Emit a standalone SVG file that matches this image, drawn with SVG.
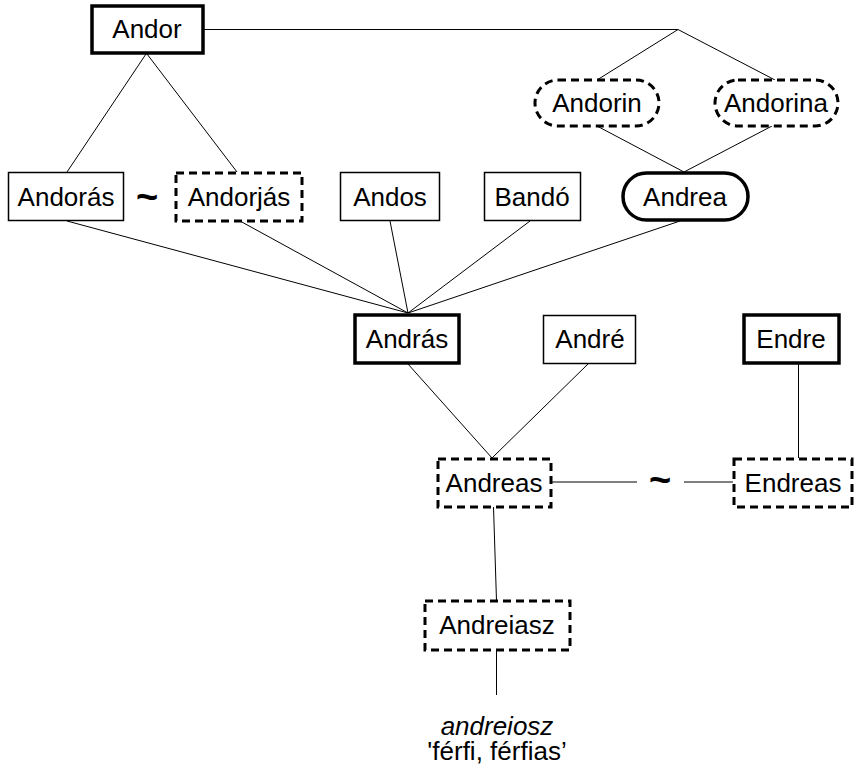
<svg xmlns="http://www.w3.org/2000/svg" width="864" height="771" viewBox="0 0 864 771">
<style>
text{font-family:"Liberation Sans",Arial,sans-serif;font-size:26px;fill:#000;text-anchor:middle}
.thin{fill:#fff;stroke:#000;stroke-width:1.5}
.thick{fill:#fff;stroke:#000;stroke-width:3.5}
.dash{fill:#fff;stroke:#000;stroke-width:3;stroke-dasharray:8,5}
.c{stroke:#000;stroke-width:1;fill:none}
.tl{font-weight:bold;font-size:38px}
</style>
<rect width="864" height="771" fill="#fff"/>
<g id="connectors">
<polyline class="c" points="203,29.5 678,29.5 597,80"/>
<line class="c" x1="678" y1="29.5" x2="775" y2="80"/>
<line class="c" x1="146" y1="54" x2="67" y2="172"/>
<line class="c" x1="147" y1="54" x2="237" y2="172"/>
<line class="c" x1="597" y1="126" x2="684" y2="172"/>
<line class="c" x1="772" y1="126" x2="684" y2="172"/>
<line class="c" x1="67" y1="221" x2="408" y2="313"/>
<line class="c" x1="240" y1="221" x2="408" y2="313"/>
<line class="c" x1="390" y1="221" x2="408" y2="313"/>
<line class="c" x1="530" y1="221" x2="408" y2="313"/>
<line class="c" x1="680" y1="221" x2="408" y2="313"/>
<line class="c" x1="408" y1="364" x2="492" y2="458"/>
<line class="c" x1="588" y1="364" x2="492" y2="458"/>
<line class="c" x1="798.5" y1="364" x2="798.5" y2="458"/>
<line class="c" x1="551" y1="482" x2="637" y2="482"/>
<line class="c" x1="684" y1="482" x2="733" y2="482"/>
<line class="c" x1="493.5" y1="507" x2="496.5" y2="601"/>
<line class="c" x1="496.5" y1="650" x2="496.5" y2="695"/>
</g>
<g id="n-andor"><rect class="thick" x="92" y="6" width="111" height="47"/><text x="147" y="38">Andor</text></g>
<g id="n-andorin"><rect class="dash" x="535" y="80" width="124" height="46" rx="23"/><text x="597" y="112">Andorin</text></g>
<g id="n-andorina"><rect class="dash" x="715" y="80" width="123" height="46" rx="23"/><text x="776" y="112">Andorina</text></g>
<g id="n-andoras"><rect class="thin" x="8.5" y="172.5" width="115" height="48"/><text x="66" y="206">Andorás</text></g>
<g id="tilde1"><text class="tl" x="147" y="210">~</text></g>
<g id="n-andorjas"><rect class="dash" x="176" y="173" width="126" height="48"/><text x="239" y="206">Andorjás</text></g>
<g id="n-andos"><rect class="thin" x="340.5" y="172.5" width="99" height="48"/><text x="390" y="206">Andos</text></g>
<g id="n-bando"><rect class="thin" x="484.5" y="172.5" width="96" height="48"/><text x="532" y="206">Bandó</text></g>
<g id="n-andrea"><rect class="thick" x="623" y="173" width="125" height="47" rx="23.5"/><text x="685" y="206">Andrea</text></g>
<g id="n-andras"><rect class="thick" x="355" y="315" width="104" height="48"/><text x="407" y="348">András</text></g>
<g id="n-andre"><rect class="thin" x="543.5" y="315.5" width="92" height="48"/><text x="590" y="348">André</text></g>
<g id="n-endre"><rect class="thick" x="744" y="315" width="95" height="48"/><text x="791" y="348">Endre</text></g>
<g id="n-andreas"><rect class="dash" x="438" y="459" width="113" height="48"/><text x="494" y="492">Andreas</text></g>
<g id="tilde2"><text class="tl" x="660" y="493">~</text></g>
<g id="n-endreas"><rect class="dash" x="734" y="459" width="118" height="48"/><text x="793" y="492">Endreas</text></g>
<g id="n-andreiasz"><rect class="dash" x="425" y="601" width="145" height="49"/><text x="497" y="634">Andreiasz</text></g>
<g id="etym"><text x="497" y="735" font-style="italic">andreiosz</text><text x="497" y="760">'férfi, férfias’</text></g>
</svg>
